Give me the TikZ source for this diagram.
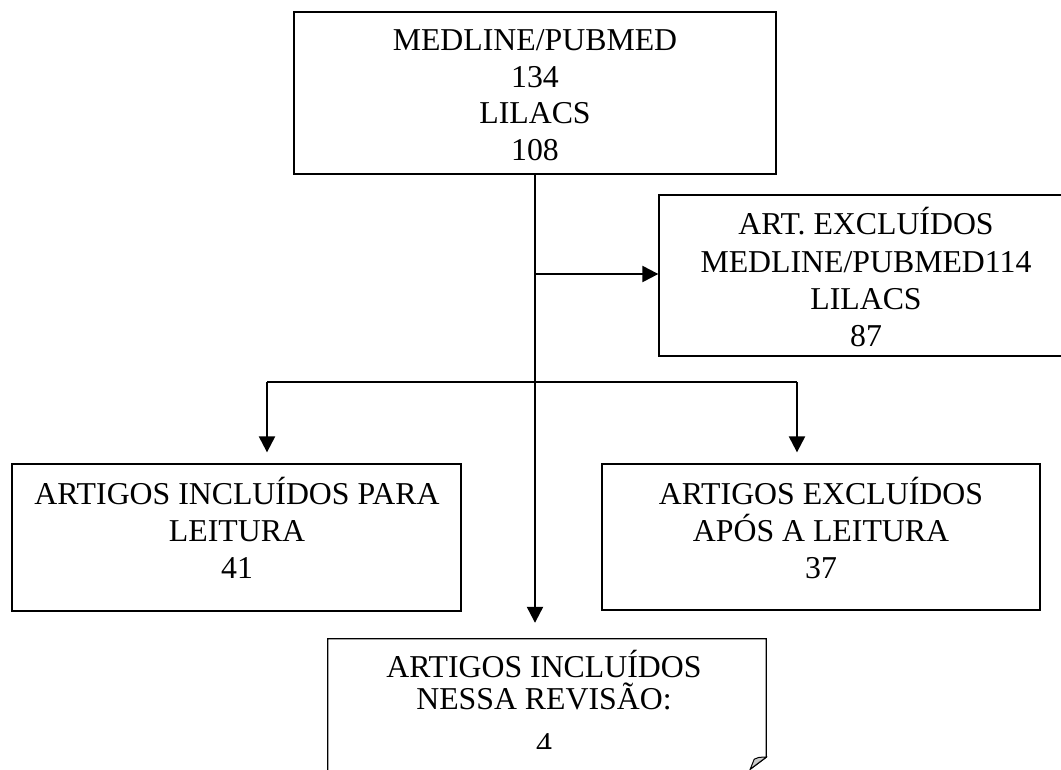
\documentclass[tikz,border=0pt]{standalone}
\usepackage{fontspec}
\setmainfont{Liberation Serif}
\usetikzlibrary{arrows.meta}
\begin{document}
\begin{tikzpicture}[x=1pt,y=-1pt,
  boxframe/.style={draw,line width=1.3pt,inner sep=0pt},
  txt/.style={align=center,inner sep=0pt,font=\fontsize{31.8}{36.8}\selectfont},
  thinline/.style={line width=1.3pt},
  arr/.style={line width=2.2pt,-{Triangle[width=16pt,length=16pt]}}]
\useasboundingbox (0,0) rectangle (1061,769);
\clip (0,0) rectangle (1061,769);
\fill[white] (0,0) rectangle (1061,769);
% boxes
\node[boxframe,minimum width=482pt,minimum height=162pt] (top) at (535,93) {};
\node[txt] (toptxt) at (535,95.1) {MEDLINE/PUBMED\\134\\LILACS\\108};
\node[boxframe,minimum width=414pt,minimum height=161pt] (rbox) at (866,275.5) {};
\node[txt,font=\fontsize{31.8}{37.3}\selectfont] (rtxt) at (866,277.3) {ART. EXCLUÍDOS\\MEDLINE/PUBMED114\\LILACS\\87};
\node[boxframe,minimum width=449pt,minimum height=147pt] (lbox) at (236.5,537.5) {};
\node[txt] (ltxt) at (237,527.8) {ARTIGOS INCLUÍDOS PARA\\LEITURA\\41};
\node[boxframe,minimum width=438pt,minimum height=146pt] (rlbox) at (821,537) {};
\node[txt] (rltxt) at (821,527.8) {ARTIGOS EXCLUÍDOS\\APÓS A LEITURA\\37};
\node[inner sep=0pt,minimum width=438pt,minimum height=136pt] (bot) at (547,707) {};
\draw[line width=1.3pt] (bot.south west) -- (bot.north west) -- (bot.north east)
  -- ([yshift=18pt]bot.south east) -- ([xshift=-16pt,yshift=6pt]bot.south east);
\filldraw[line width=1pt,fill=black!20] ([yshift=18pt]bot.south east)
  .. controls ([xshift=-8pt,yshift=18pt]bot.south east) .. ([xshift=-12pt,yshift=16pt]bot.south east)
  -- ([xshift=-16pt,yshift=6pt]bot.south east) -- cycle;
\begin{scope}
\clip (0,0) rectangle (1061,748);
\node[txt,font=\fontsize{31.8}{32}\selectfont] (btxt) at (544,702.75) {ARTIGOS INCLUÍDOS\\NESSA REVISÃO:\\[13pt]4};
\end{scope}
% connectors
\coordinate (j1) at (535,274);
\coordinate (j2) at (535,340);
\coordinate (hl) at (267,382);
\coordinate (hr) at (797,382);
\draw[thinline] (top.south) -- (j2);
\draw[arr] (j1) -- (j1 -| rbox.west);
\draw[arr,shorten >=16pt] (j2) -- (j2 |- bot.north);
\draw[thinline] (hl) -- (hr);
\draw[arr,shorten >=11pt] (hl) -- (hl |- lbox.north);
\draw[arr,shorten >=11pt] (hr) -- (hr |- rlbox.north);
\end{tikzpicture}
\end{document}
